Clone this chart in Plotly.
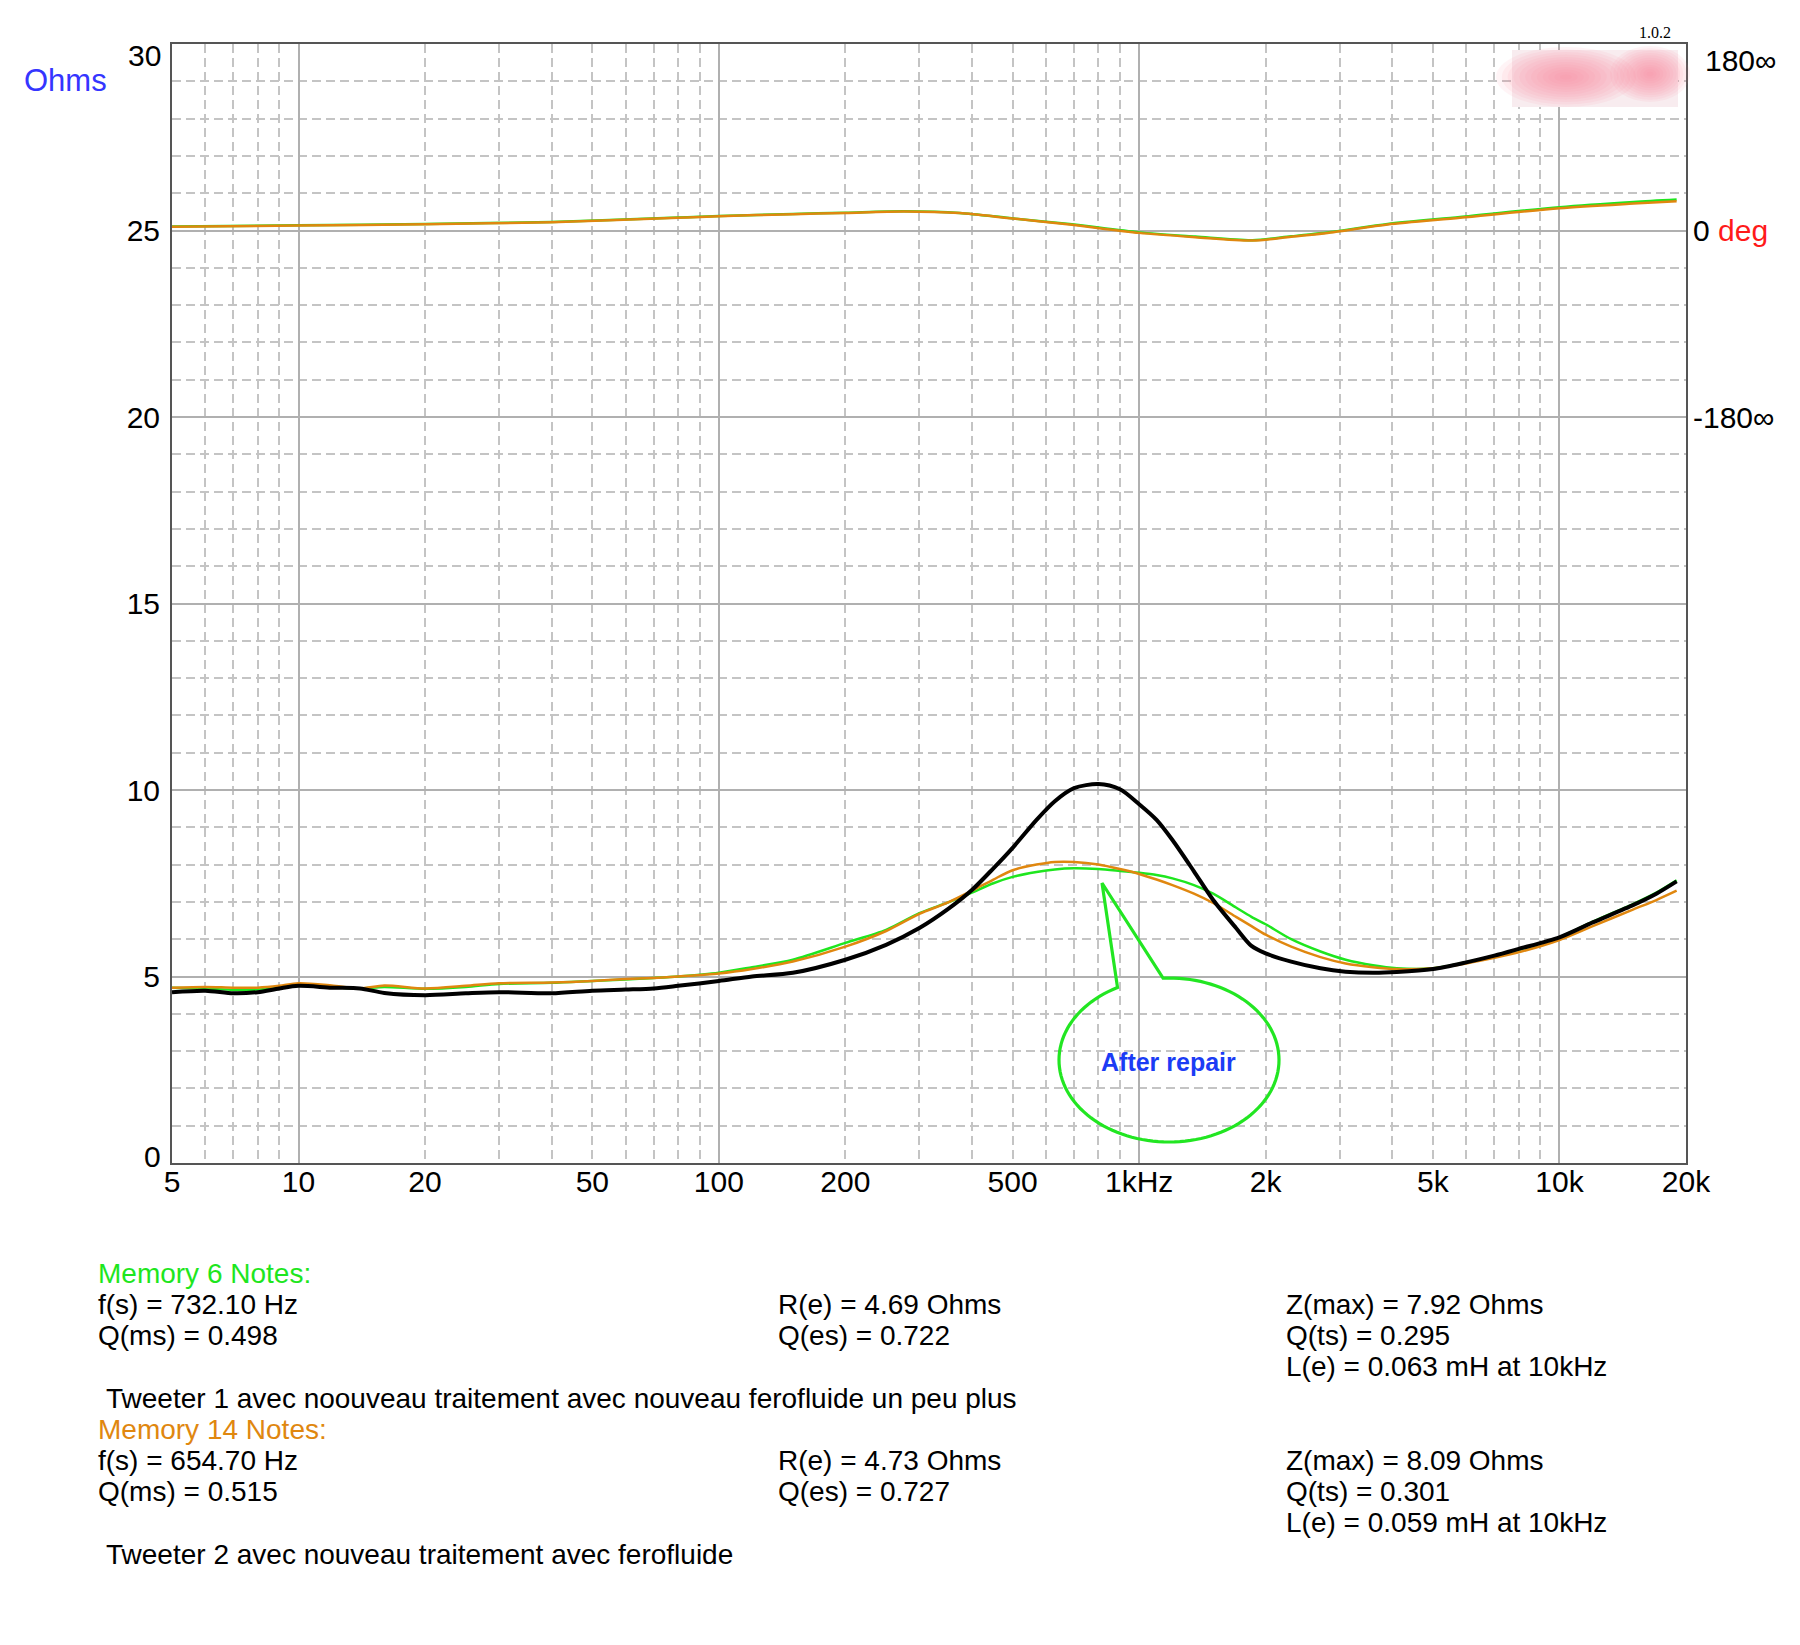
import numpy as np
import plotly.graph_objects as go

# ---------------- data ----------------
freq = [5, 6, 7, 8, 9, 10, 12, 14, 16, 20, 25, 30, 40, 50, 60, 70, 80, 100, 120, 150,
        200, 250, 300, 350, 400, 450, 500, 570, 630, 700, 800, 900, 1000, 1100, 1200,
        1350, 1500, 1700, 1850, 2000, 2300, 2700, 3100, 3600, 4100, 5000, 6000, 7000,
        8000, 10000, 12000, 15000, 17000, 19000]

z_after_repair = [4.58, 4.62, 4.55, 4.58, 4.68, 4.75, 4.70, 4.68, 4.56, 4.50, 4.55, 4.58,
                  4.55, 4.62, 4.65, 4.68, 4.75, 4.88, 5.00, 5.10, 5.45, 5.85, 6.30, 6.80,
                  7.32, 7.90, 8.45, 9.20, 9.70, 10.05, 10.16, 10.02, 9.62, 9.20, 8.66,
                  7.82, 7.05, 6.30, 5.82, 5.62, 5.40, 5.22, 5.13, 5.10, 5.12, 5.20, 5.38,
                  5.56, 5.74, 6.05, 6.45, 6.92, 7.22, 7.55]

z_mem6 = [4.70, 4.68, 4.64, 4.65, 4.70, 4.78, 4.72, 4.68, 4.72, 4.67, 4.72, 4.80, 4.83,
          4.88, 4.92, 4.96, 5.00, 5.10, 5.25, 5.45, 5.90, 6.25, 6.70, 6.98, 7.25, 7.50,
          7.67, 7.80, 7.87, 7.90, 7.88, 7.83, 7.78, 7.72, 7.63, 7.45, 7.22, 6.85, 6.60,
          6.40, 6.00, 5.67, 5.45, 5.30, 5.22, 5.22, 5.38, 5.55, 5.72, 6.05, 6.47, 6.95,
          7.25, 7.58]

z_mem14 = [4.70, 4.72, 4.70, 4.70, 4.75, 4.82, 4.76, 4.68, 4.76, 4.68, 4.75, 4.82, 4.84,
           4.88, 4.93, 4.96, 5.00, 5.08, 5.20, 5.40, 5.80, 6.22, 6.68, 6.98, 7.30, 7.60,
           7.85, 8.00, 8.07, 8.07, 8.00, 7.88, 7.75, 7.60, 7.45, 7.22, 6.97, 6.60, 6.35,
           6.12, 5.80, 5.52, 5.35, 5.25, 5.20, 5.22, 5.35, 5.50, 5.65, 5.98, 6.35, 6.80,
           7.05, 7.30]

phase_freq = [5, 10, 20, 40, 80, 100, 150, 200, 276, 374, 492, 683, 1000, 1360, 1860,
              2300, 2900, 3900, 5800, 10000, 15000, 19000]
phase_mem6 = [3.8, 5.0, 6.3, 8.3, 12.5, 14.0, 16.0, 17.2, 18.5, 17.0, 12.0, 6.2, -1.8,
              -5.8, -9.3, -5.6, -1.2, 6.3, 13.0, 22.5, 27.5, 29.8]
phase_mem14 = [3.5, 4.8, 6.1, 8.0, 12.2, 13.8, 15.8, 17.0, 18.3, 16.8, 11.9, 5.8, -2.3,
               -6.4, -9.7, -6.0, -1.6, 5.8, 12.3, 21.5, 26.0, 28.3]

x_tick_vals = [5, 10, 20, 50, 100, 200, 500, 1000, 2000, 5000, 10000, 20000]
x_tick_text = ["5", "10", "20", "50", "100", "200", "500", "1kHz", "2k", "5k", "10k", "20k"]
x_major_grid = [10, 100, 1000, 10000]
x_minor_grid = [6, 7, 8, 9, 20, 30, 40, 50, 60, 70, 80, 90,
                200, 300, 400, 500, 600, 700, 800, 900,
                2000, 3000, 4000, 5000, 6000, 7000, 8000, 9000]
y_grid_vals = [0, 5, 10, 15, 20, 25, 30]
y_label_vals = [5, 10, 15, 20, 25]          # drawn by the axis
y_edge_labels = [(30, "30", -11), (0, "0", 7)]   # value, text, vertical nudge (px)
phase_tick_vals = [0, -180]
phase_tick_text = ["0 <span style='color:#ff1a1a'>deg</span>", "-180\u221e"]
phase_top_label = (180, "180\u221e", -16)

notes6_title = "Memory 6 Notes:"
notes6_col1 = ["f(s) = 732.10 Hz", "Q(ms) = 0.498"]
notes6_col2 = ["R(e) = 4.69 Ohms", "Q(es) = 0.722"]
notes6_col3 = ["Z(max) = 7.92 Ohms", "Q(ts) = 0.295", "L(e) = 0.063 mH at 10kHz"]
notes6_comment = "Tweeter 1 avec noouveau traitement avec nouveau ferofluide un peu plus"
notes14_title = "Memory 14 Notes:"
notes14_col1 = ["f(s) = 654.70 Hz", "Q(ms) = 0.515"]
notes14_col2 = ["R(e) = 4.73 Ohms", "Q(es) = 0.727"]
notes14_col3 = ["Z(max) = 8.09 Ohms", "Q(ts) = 0.301", "L(e) = 0.059 mH at 10kHz"]
notes14_comment = "Tweeter 2 avec nouveau traitement avec ferofluide"

# ---------------- styling ----------------
W, H = 1800, 1645
PL, PR, PT, PB = 172, 1686, 44, 1163
FONT = "Liberation Sans, Arial, Helvetica, sans-serif"
GREEN = "#1ee61e"
ORANGE = "#e0870f"
GRID_SOLID = "#b0b0b0"
GRID_DASH = "#c4c4c4"
DASH = "9px,5px"


def px(x):
    return (x - PL) / (PR - PL)


def py(y):
    return (PB - y) / (PB - PT)


xrange_log = [np.log10(5), np.log10(20000)]

fig = go.Figure()

fig.add_trace(go.Scatter(x=freq, y=z_mem6, mode="lines", xaxis="x", yaxis="y",
                         line=dict(color=GREEN, width=2.5, shape="spline", smoothing=0.8),
                         hoverinfo="skip"))
fig.add_trace(go.Scatter(x=freq, y=z_mem14, mode="lines", xaxis="x", yaxis="y",
                         line=dict(color=ORANGE, width=2.5, shape="spline", smoothing=0.8),
                         hoverinfo="skip"))
fig.add_trace(go.Scatter(x=freq, y=z_after_repair, mode="lines", xaxis="x", yaxis="y",
                         line=dict(color="black", width=4, shape="spline", smoothing=0.8),
                         hoverinfo="skip"))
fig.add_trace(go.Scatter(x=phase_freq, y=phase_mem6, mode="lines", xaxis="x2", yaxis="y2",
                         line=dict(color=GREEN, width=2.5, shape="spline", smoothing=0.8),
                         hoverinfo="skip"))
fig.add_trace(go.Scatter(x=phase_freq, y=phase_mem14, mode="lines", xaxis="x2", yaxis="y2",
                         line=dict(color=ORANGE, width=2.5, shape="spline", smoothing=0.8),
                         hoverinfo="skip"))

TICKFONT = dict(size=30, family=FONT, color="black")

fig.update_layout(
    width=W, height=H,
    margin=dict(l=PL, r=W - PR, t=PT, b=H - PB, pad=0),
    paper_bgcolor="white", plot_bgcolor="white",
    showlegend=False,
    font=dict(family=FONT, color="black", size=28),
    xaxis=dict(type="log", range=xrange_log, tickmode="array", tickvals=x_major_grid,
               showticklabels=False, ticks="", showgrid=True, gridcolor=GRID_SOLID,
               gridwidth=1.5, zeroline=False, showline=True, mirror=True,
               linecolor="#555555", linewidth=2,
               minor=dict(tickmode="array", tickvals=x_minor_grid, showgrid=True,
                          gridcolor=GRID_DASH, gridwidth=1.5, griddash=DASH, ticks="")),
    yaxis=dict(range=[0, 30], tickmode="array", tickvals=y_grid_vals,
               ticktext=[str(v) if v in y_label_vals else "" for v in y_grid_vals],
               ticks="", showgrid=True, gridcolor=GRID_SOLID, gridwidth=1.5,
               zeroline=False, showline=True, mirror=True, linecolor="#555555",
               linewidth=2, tickfont=TICKFONT, ticklabelstandoff=4,
               minor=dict(dtick=1, showgrid=True, gridcolor=GRID_DASH, gridwidth=1.5,
                          griddash=DASH, ticks="")),
    xaxis2=dict(type="log", range=xrange_log, overlaying="x", anchor="y2", side="bottom",
                tickmode="array", tickvals=x_tick_vals, ticktext=x_tick_text, ticks="",
                showgrid=False, zeroline=False, showline=False,
                tickfont=TICKFONT, ticklabelstandoff=-2),
    yaxis2=dict(range=[-900, 180], overlaying="y", anchor="x2", side="right",
                tickmode="array", tickvals=phase_tick_vals, ticktext=phase_tick_text,
                ticks="", showgrid=False, zeroline=False, showline=False,
                tickfont=TICKFONT, ticklabelstandoff=6),
)

shapes = []
# blurred label box (top right)
shapes.append(dict(type="rect", xref="paper", yref="paper", layer="above",
                   x0=px(1512), x1=px(1678), y0=py(107), y1=py(50),
                   fillcolor="#f8ecef", line=dict(width=0)))
for (cx, cy, rx0, ry0) in [(1566, 77, 70, 30), (1650, 74, 40, 28)]:
    for k in range(12):
        f = 1 - k / 12.0
        rx, ry = rx0 * f, ry0 * f
        shapes.append(dict(type="circle", xref="paper", yref="paper", layer="above",
                           x0=px(cx - rx), x1=px(cx + rx), y0=py(cy + ry), y1=py(cy - ry),
                           fillcolor="rgba(255,130,160,0.09)", line=dict(width=0)))

# callout bubble
ecx, ecy, erx, ery = 1169, 1060, 110, 82
t = np.radians(np.linspace(-117.9, -453.1, 120))
ex = ecx + erx * np.cos(t)
ey = ecy + ery * np.sin(t)
tip = (1102, 883)
path = "M {:.5f},{:.5f}".format(px(ex[0]), py(ey[0]))
for a, b in zip(ex[1:], ey[1:]):
    path += " L {:.5f},{:.5f}".format(px(a), py(b))
path += " L {:.5f},{:.5f} Z".format(px(tip[0]), py(tip[1]))
shapes.append(dict(type="path", xref="paper", yref="paper", path=path, layer="above",
                   line=dict(color="#22e622", width=3.2)))
fig.update_layout(shapes=shapes)

ann = []


def add_text(x, y, text, color="black", size=28, anchor="left", family=FONT):
    ann.append(dict(x=px(x), y=py(y), xref="paper", yref="paper", text=text,
                    showarrow=False, xanchor=anchor, yanchor="middle",
                    font=dict(family=family, size=size, color=color)))


# edge tick labels of the two y axes (nudged inside the figure as in the reference)
for val, txt, nudge in y_edge_labels:
    ann.append(dict(x=px(PL - 9), y=val, xref="paper", yref="y", text=txt,
                    showarrow=False, xanchor="right", yanchor="middle", yshift=nudge,
                    font=TICKFONT))
ann.append(dict(x=px(PR + 17), y=phase_top_label[0], xref="paper", yref="y2",
                text=phase_top_label[1], showarrow=False, xanchor="left",
                yanchor="middle", yshift=phase_top_label[2], font=TICKFONT))

add_text(66, 81, "Ohms", color="#3535ff", size=31, anchor="center")
add_text(1655, 33, "1.0.2", size=16, anchor="center",
         family="Liberation Serif, Times New Roman, serif")
add_text(1168, 1062, "<b>After repair</b>", color="#1b3cf5", size=25, anchor="center")

C1, C2, C3 = 96, 776, 1284
PITCH = 31.3
OFF = 9
blocks = [(1282, notes6_title, GREEN, notes6_col1, notes6_col2, notes6_col3, notes6_comment),
          (1438, notes14_title, ORANGE, notes14_col1, notes14_col2, notes14_col3, notes14_comment)]
for base, title, col, c1, c2, c3, comment in blocks:
    add_text(C1, base - OFF, title, color=col)
    for i, s in enumerate(c1):
        add_text(C1, base + PITCH * (i + 1) - OFF, s)
    for i, s in enumerate(c2):
        add_text(C2, base + PITCH * (i + 1) - OFF, s)
    for i, s in enumerate(c3):
        add_text(C3, base + PITCH * (i + 1) - OFF, s)
    add_text(C1 + 8, base + PITCH * 4 - OFF, comment)

fig.update_layout(annotations=ann)

fig.write_html("out.html", config={"displayModeBar": False},
               post_script="document.body.style.margin='0px';")
